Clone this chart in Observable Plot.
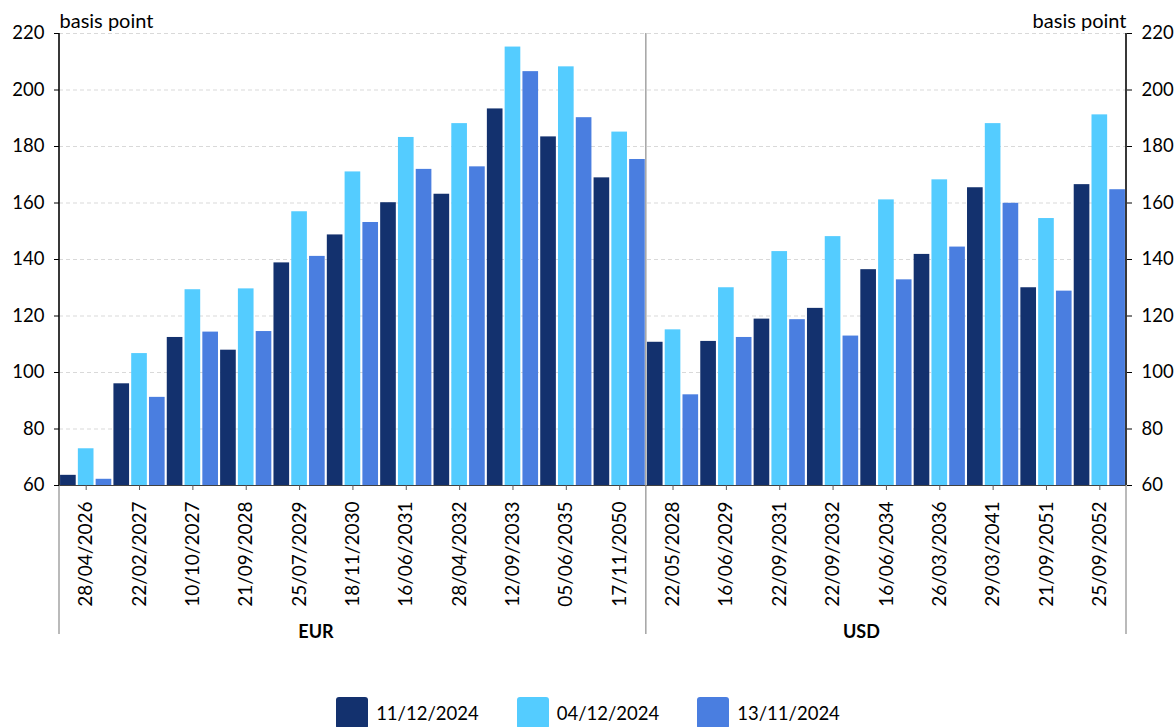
<!DOCTYPE html>
<html><head><meta charset="utf-8">
<script src="https://cdn.jsdelivr.net/npm/d3@7"></script>
<script src="https://cdn.jsdelivr.net/npm/@observablehq/plot@0.6"></script>
<style>
body{margin:0;background:#fff;font-family:Lato,sans-serif;color:#000}
#legend{display:flex;justify-content:center;gap:38px;margin-top:37px;font-size:18.5px;font-family:Lato,sans-serif}
.item{display:flex;align-items:center;gap:8px}
.sw{width:32px;height:32px;border-radius:3px}
</style></head><body><div id="chart"></div><div id="legend"></div>
<script>
const eurDates = ["28/04/2026","22/02/2027","10/10/2027","21/09/2028","25/07/2029","18/11/2030","16/06/2031","28/04/2032","12/09/2033","05/06/2035","17/11/2050"];
const usdDates = ["22/05/2028","16/06/2029","22/09/2031","22/09/2032","16/06/2034","26/03/2036","29/03/2041","21/09/2051","25/09/2052"];
const seriesNames = ["11/12/2024","04/12/2024","13/11/2024"];
const seriesColors = ["#13316E","#54CCFF","#4A7EE0"];
const eurS1 = [63.6, 96.0, 112.4, 107.9, 138.8, 148.7, 160.1, 163.1, 193.3, 183.4, 168.9];
const eurS2 = [73.0, 106.7, 129.3, 129.6, 156.9, 171.0, 183.2, 188.1, 215.2, 208.2, 185.1];
const eurS3 = [62.2, 91.2, 114.3, 114.5, 141.1, 153.1, 171.9, 172.8, 206.5, 190.2, 175.4];
const usdS1 = [110.7, 111.0, 118.9, 122.7, 136.4, 141.8, 165.4, 130.0, 166.5];
const usdS2 = [115.1, 130.0, 142.8, 148.1, 161.1, 168.2, 188.1, 154.5, 191.2];
const usdS3 = [92.1, 112.4, 118.7, 112.9, 132.8, 144.4, 159.9, 128.8, 164.7];
const yTicks = [60, 80, 100, 120, 140, 160, 180, 200, 220];
const yUnit = "basis point";

const groups = [
  {currency: "EUR", dates: eurDates, values: [eurS1, eurS2, eurS3]},
  {currency: "USD", dates: usdDates, values: [usdS1, usdS2, usdS3]}
];
const rows = [];
groups.forEach(g => g.dates.forEach((d, i) => seriesNames.forEach((s, j) =>
  rows.push({currency: g.currency, date: d, series: s, key: `${g.currency}|${d}|${s}`, value: g.values[j][i]}))));
const keys = rows.map(r => r.key);
const tickKeys = rows.filter(r => r.series === seriesNames[1]).map(r => r.key);
const yMin = yTicks[0], yMax = yTicks[yTicks.length - 1];
// label anchor: middle bar of each currency block
const groupLabels = groups.map(g => {
  const ks = rows.filter(r => r.currency === g.currency).map(r => r.key);
  return {currency: g.currency, key: ks[Math.floor(ks.length / 2)]};
});

function separators(index, scales, values, dims) {
  const x = scales.x;
  const bw = x.bandwidth ? x.bandwidth() : 0;
  const step = x.step ? x.step() : bw / 0.88;
  const gap = (step - bw) / 2;
  const starts = groups.map(g => rows.find(r => r.currency === g.currency).key);
  const xs = starts.map(k => x(k) - gap);
  xs.push(x(keys[keys.length - 1]) + bw + gap);
  const g = d3.create("svg:g");
  const top = dims.marginTop, bottom = dims.height - 26, base = dims.height - dims.marginBottom;
  xs.forEach(xx => g.append("line").attr("x1", xx).attr("x2", xx).attr("y1", top).attr("y2", bottom)
    .attr("stroke", "#8c8c8c").attr("stroke-width", 1.2));
  [xs[0], xs[xs.length - 1]].forEach(xx => g.append("line").attr("x1", xx).attr("x2", xx)
    .attr("y1", top).attr("y2", base).attr("stroke", "#000").attr("stroke-width", 1.4));
  return g.node();
}

const chart = Plot.plot({
  width: 1176,
  height: 660,
  marginTop: 33,
  marginBottom: 175,
  marginLeft: 59,
  marginRight: 50,
  style: {fontFamily: "Lato, sans-serif", fontSize: "18px", color: "#000", background: "#fff"},
  x: {domain: keys, paddingInner: 0.12, paddingOuter: 0.06, align: 0.5, axis: null},
  y: {domain: [yMin, yMax], axis: null},
  color: {domain: seriesNames, range: seriesColors},
  marks: [
    Plot.gridY(yTicks.filter(v => v > yMin), {stroke: "#d9d9d9", strokeOpacity: 1, strokeDasharray: "4,3"}),
    Plot.barY(rows, {x: "key", y1: yMin, y2: "value", fill: "series"}),
    Plot.ruleY([yMin], {stroke: "#404040"}),
    separators,
    Plot.axisY(yTicks, {anchor: "left", tickSize: 5, tickPadding: 10, label: null, stroke: "#000", fontSize: 18.5}),
    Plot.axisY(yTicks, {anchor: "right", tickSize: 5, tickPadding: 10, label: null, stroke: "#000", fontSize: 18.5}),
    Plot.axisX(tickKeys, {anchor: "bottom", tickFormat: k => k.split("|")[1], tickRotate: -90, tickSize: 5, tickPadding: 11, label: null, stroke: "#595959", fontSize: 19}),
    Plot.text([yUnit], {frameAnchor: "top-left", textAnchor: "start", lineAnchor: "middle", dy: -12, fontSize: 20}),
    Plot.text([yUnit], {frameAnchor: "top-right", textAnchor: "end", lineAnchor: "middle", dy: -12, fontSize: 20}),
    Plot.text(groupLabels.slice(0, 1), {x: "key", text: "currency", frameAnchor: "bottom", lineAnchor: "middle", dy: 147, dx: -37, fontWeight: "bold", fontSize: 18}),
    Plot.text(groupLabels.slice(1), {x: "key", text: "currency", frameAnchor: "bottom", lineAnchor: "middle", dy: 147, dx: -25, fontWeight: "bold", fontSize: 18})
  ]
});
document.getElementById("chart").appendChild(chart);

const legend = document.getElementById("legend");
seriesNames.forEach((s, i) => {
  const it = document.createElement("div"); it.className = "item";
  const sw = document.createElement("div"); sw.className = "sw"; sw.style.background = seriesColors[i];
  const t = document.createElement("span"); t.textContent = s;
  it.appendChild(sw); it.appendChild(t); legend.appendChild(it);
});
</script></body></html>
